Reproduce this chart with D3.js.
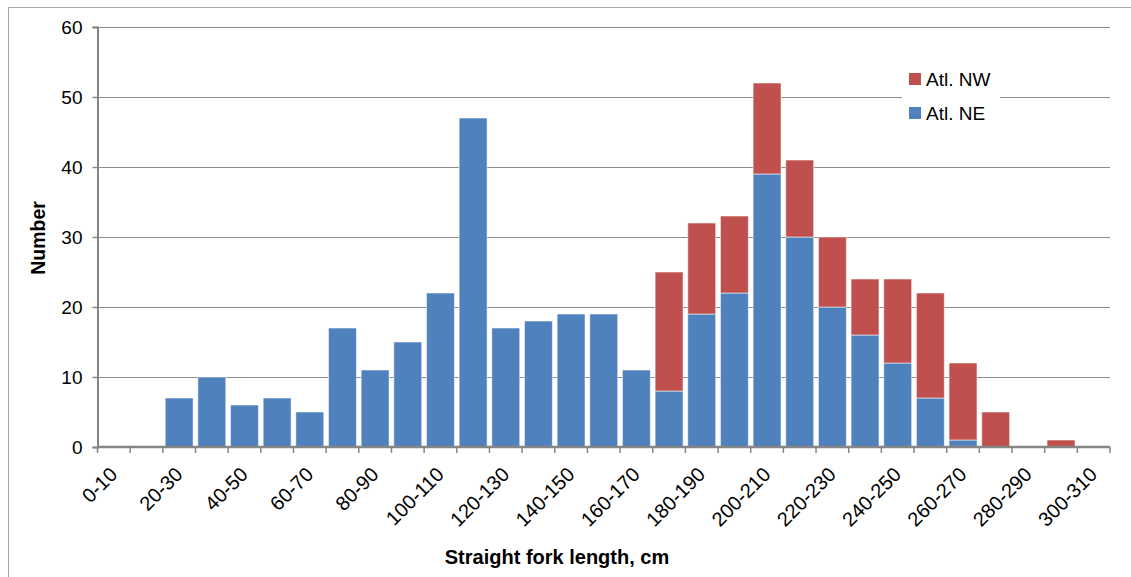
<!DOCTYPE html>
<html><head><meta charset="utf-8">
<script src="https://cdn.jsdelivr.net/npm/d3@7"></script>
<style>body{margin:0;background:#fff;} text{font-family:"Liberation Sans",Arial,sans-serif;}</style>
</head><body>
<svg id="c" width="1131" height="577"></svg>
<script>
const categories = ["0-10","10-20","20-30","30-40","40-50","50-60","60-70","70-80","80-90","90-100","100-110","110-120","120-130","130-140","140-150","150-160","160-170","170-180","180-190","190-200","200-210","210-220","220-230","230-240","240-250","250-260","260-270","270-280","280-290","290-300","300-310"];
const atlNE = [0,0,7,10,6,7,5,17,11,15,22,47,17,18,19,19,11,8,19,22,39,30,20,16,12,7,1,0,0,0,0];
const atlNW = [0,0,0,0,0,0,0,0,0,0,0,0,0,0,0,0,0,17,13,11,13,11,10,8,12,15,11,5,0,1,0];
const yTicks = [0,10,20,30,40,50,60];
const seriesNames = ["Atl. NE","Atl. NW"];
const colors = {"Atl. NE":"#4F81BD","Atl. NW":"#C0504D"};

const svg = d3.select("#c");
const L = 97.5, R = 1110, T = 27, B = 447;

// outer border
svg.append("rect").attr("x",8.5).attr("y",7.5).attr("width",1140).attr("height",600)
  .attr("fill","none").attr("stroke","#a6a6a6").attr("stroke-width",1);

const x = d3.scaleBand().domain(categories).range([L,R]).paddingInner(0.145).paddingOuter(0.0725);
const y = d3.scaleLinear().domain([0,60]).range([B,T]);

// gridlines
svg.append("g").selectAll("line").data(yTicks.filter(d=>d>0)).join("line")
  .attr("x1",L).attr("x2",R).attr("y1",d=>Math.round(y(d))+0.5).attr("y2",d=>Math.round(y(d))+0.5)
  .attr("stroke","#8c8c8c").attr("stroke-width",1.2);

// stacked bars
const data = categories.map((c,i)=>({cat:c,"Atl. NE":atlNE[i],"Atl. NW":atlNW[i]}));
const stack = d3.stack().keys(seriesNames)(data);
svg.append("g").selectAll("g").data(stack).join("g").attr("fill",d=>colors[d.key])
  .selectAll("rect").data(d=>d.filter(v=>v[1]-v[0]>0)).join("rect")
  .attr("x",d=>x(d.data.cat)).attr("width",x.bandwidth())
  .attr("y",d=>y(d[1])).attr("height",d=>y(d[0])-y(d[1]))
  .attr("stroke","#ffffff").attr("stroke-opacity",0.55).attr("stroke-width",1);

// y axis
const yAxis = d3.axisLeft(y).tickValues(yTicks).tickSize(5).tickPadding(10);
const yg = svg.append("g").attr("transform",`translate(${L},0)`).call(yAxis);
yg.select(".domain").attr("stroke","#868686").attr("stroke-width",2);
yg.selectAll(".tick line").attr("stroke","#868686").attr("stroke-width",1.5);
yg.selectAll(".tick text").attr("font-size",19).attr("fill","#000").attr("font-family","Liberation Sans, Arial, sans-serif");

// x axis
const xg = svg.append("g").attr("transform",`translate(0,${B})`);
xg.append("line").attr("x1",L).attr("x2",R).attr("y1",0).attr("y2",0).attr("stroke","#868686").attr("stroke-width",2.5);
const step = x.step();
const bounds = d3.range(categories.length+1).map(i=>L+i*step);
xg.selectAll("line.tk").data(bounds).join("line").attr("class","tk")
  .attr("x1",d=>d).attr("x2",d=>d).attr("y1",0).attr("y2",6).attr("stroke","#868686").attr("stroke-width",1.5);
xg.selectAll("text").data(categories.filter((c,i)=>i%2===0)).join("text")
  .attr("transform",d=>`translate(${x(d)+x.bandwidth()/2+1},${25}) rotate(-45)`)
  .attr("text-anchor","end").attr("dominant-baseline","middle")
  .attr("font-size",20).attr("fill","#000").text(d=>d);

// axis titles
svg.append("text").attr("transform","translate(45,238) rotate(-90)").attr("text-anchor","middle")
  .attr("font-size",19.5).attr("font-weight","bold").text("Number");
svg.append("text").attr("x",557).attr("y",564).attr("text-anchor","middle")
  .attr("font-size",20).attr("font-weight","bold").text("Straight fork length, cm");

// legend
const lg = svg.append("g");
lg.append("rect").attr("x",902).attr("y",62).attr("width",98).attr("height",68).attr("fill","#fff");
const legItems = ["Atl. NW","Atl. NE"];
legItems.forEach((k,i)=>{
  const yy = 73 + i*34;
  lg.append("rect").attr("x",909).attr("y",yy).attr("width",12).attr("height",12).attr("fill",colors[k]);
  lg.append("text").attr("x",926).attr("y",yy+13).attr("font-size",19).attr("fill","#000").text(k);
});
</script>
</body></html>
